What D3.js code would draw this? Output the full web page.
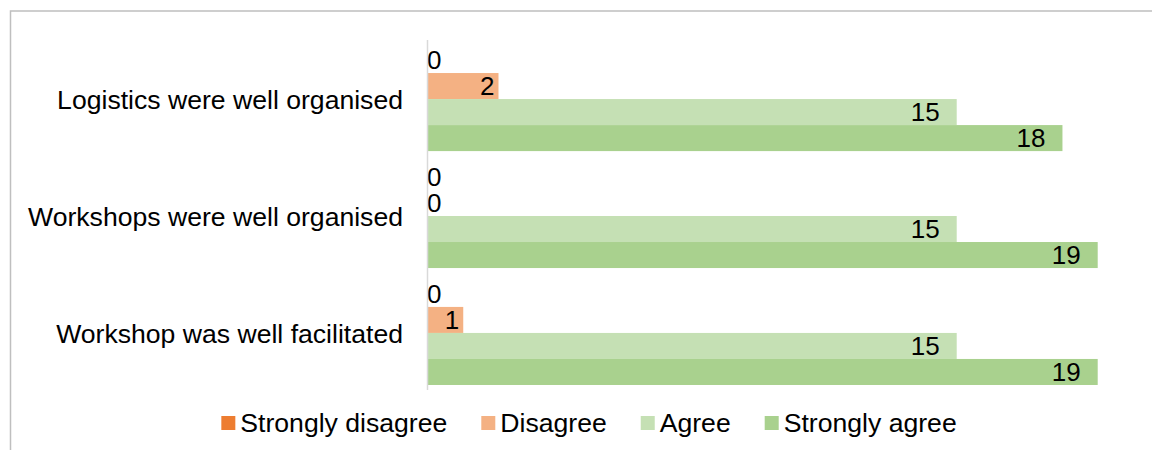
<!DOCTYPE html>
<html>
<head>
<meta charset="utf-8">
<script src="https://cdn.jsdelivr.net/npm/d3@7"></script>
<style>
  html, body { margin: 0; padding: 0; background: #fff; }
  svg { display: block; font-family: "Liberation Sans", Arial, sans-serif; }
</style>
</head>
<body>
<svg id="chart" width="1152" height="450"></svg>
<script>
const categories = ["Logistics were well organised", "Workshops were well organised", "Workshop was well facilitated"];
const seriesNames = ["Strongly disagree", "Disagree", "Agree", "Strongly agree"];
const seriesColors = ["#ED7D31", "#F4B183", "#C5E0B4", "#A9D18E"];
const stronglyDisagree = [0, 0, 0];
const disagree = [2, 0, 1];
const agree = [15, 15, 15];
const stronglyAgree = [18, 19, 19];
const seriesValues = [stronglyDisagree, disagree, agree, stronglyAgree];

const svg = d3.select("#chart");

// outer chart border (partially visible)
svg.append("path")
  .attr("d", "M10.5,460 L10.5,11 L1160,11")
  .attr("fill", "none")
  .attr("stroke", "#bfbfbf")
  .attr("stroke-width", 1.5);

const x = d3.scaleLinear()
  .domain([0, d3.max(seriesValues.flat())])
  .range([428, 1097.7]);

const y0 = d3.scaleBand()
  .domain(categories)
  .range([40, 392])
  .paddingInner(0.11)
  .paddingOuter(0.06);

const y1 = d3.scaleBand()
  .domain(seriesNames)
  .range([0, y0.bandwidth()]);

const rows = [];
categories.forEach((c, ci) => {
  seriesNames.forEach((s, si) => {
    rows.push({ cat: c, series: s, value: seriesValues[si][ci], color: seriesColors[si] });
  });
});

const g = svg.append("g");

g.selectAll("rect.bar")
  .data(rows)
  .join("rect")
  .attr("class", "bar")
  .attr("x", x(0))
  .attr("y", d => y0(d.cat) + y1(d.series))
  .attr("width", d => x(d.value) - x(0))
  .attr("height", y1.bandwidth())
  .attr("fill", d => d.color);

// value labels (inside end)
g.selectAll("text.val")
  .data(rows)
  .join("text")
  .attr("class", "val")
  .attr("x", d => {
    if (d.value === 0) return x(0) - 1;
    const digits = String(d.value).length;
    return x(d.value) - (digits > 1 ? 17 : 4);
  })
  .attr("y", d => y0(d.cat) + y1(d.series) + y1.bandwidth() / 2)
  .attr("dy", "0.36em")
  .attr("text-anchor", d => d.value === 0 ? "start" : "end")
  .attr("font-size", 26)
  .attr("fill", "#000")
  .text(d => d.value);

// vertical axis line
svg.append("line")
  .attr("x1", x(0) - 0.5).attr("x2", x(0) - 0.5)
  .attr("y1", 40).attr("y2", 390)
  .attr("stroke", "#d9d9d9")
  .attr("stroke-width", 1.5);

// category labels
svg.selectAll("text.cat")
  .data(categories)
  .join("text")
  .attr("class", "cat")
  .attr("x", 403)
  .attr("y", d => y0(d) + y0.bandwidth() / 2)
  .attr("dy", "0.38em")
  .attr("text-anchor", "end")
  .attr("font-size", 26.6)
  .attr("fill", "#000")
  .text(d => d);

// legend
const legend = svg.append("g");
const gap = 34;
let lx = 0;
seriesNames.forEach((s, i) => {
  const it = legend.append("g");
  it.append("rect")
    .attr("x", lx).attr("y", 416)
    .attr("width", 14).attr("height", 14)
    .attr("fill", seriesColors[i]);
  const t = it.append("text")
    .attr("x", lx + 19)
    .attr("y", 431.5)
    .attr("font-size", 26.6)
    .attr("fill", "#000")
    .text(s);
  const w = t.node().getComputedTextLength();
  lx += 19 + w + gap;
});
const totalW = lx - gap;
legend.attr("transform", `translate(${589 - totalW / 2},0)`);
</script>
</body>
</html>
